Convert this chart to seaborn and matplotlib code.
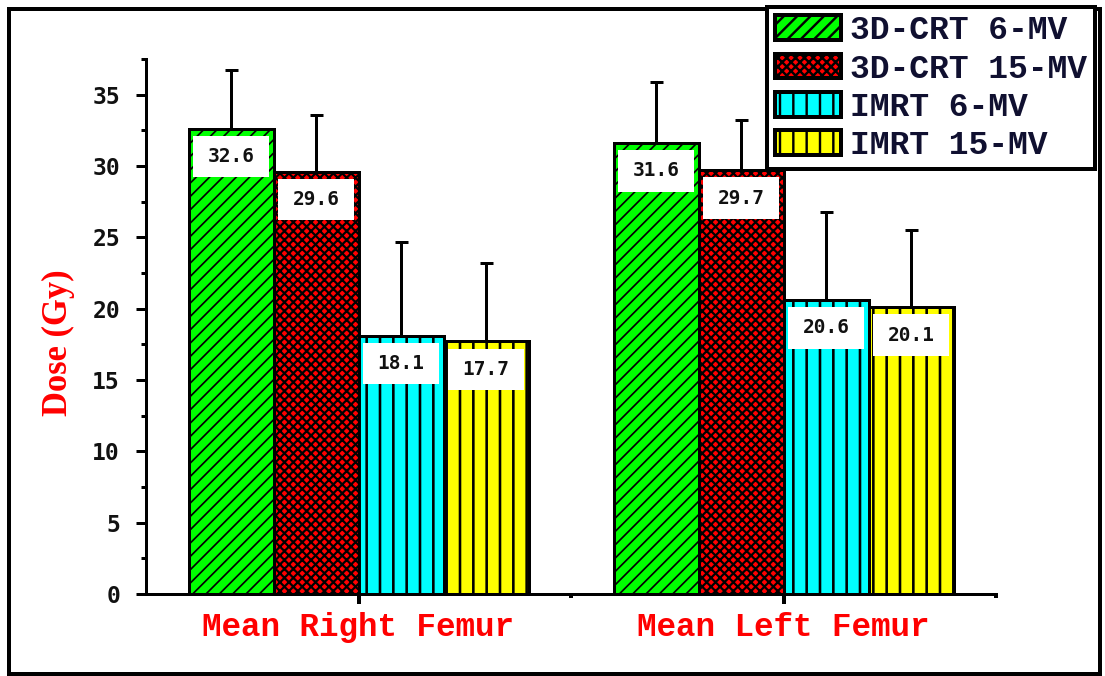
import numpy as np
import pandas as pd
import matplotlib
matplotlib.use("Agg")
import matplotlib.pyplot as plt
from matplotlib.patches import Patch, Rectangle
from matplotlib.ticker import MultipleLocator, FixedLocator
import seaborn as sns

# ---- data -------------------------------------------------------------
regions = ["Mean Right Femur", "Mean Left Femur"]
techniques = ["3D-CRT 6-MV", "3D-CRT 15-MV", "IMRT 6-MV", "IMRT 15-MV"]

crt6_mean = [32.6, 31.6]
crt15_mean = [29.6, 29.7]
imrt6_mean = [18.1, 20.6]
imrt15_mean = [17.7, 20.1]

crt6_sd = [4.1, 4.3]
crt15_sd = [4.0, 3.5]
imrt6_sd = [6.6, 6.2]
imrt15_sd = [5.5, 5.4]

y_ticks = [0, 5, 10, 15, 20, 25, 30, 35]

means = [crt6_mean, crt15_mean, imrt6_mean, imrt15_mean]
sds = [crt6_sd, crt15_sd, imrt6_sd, imrt15_sd]

colors = ["#00FF00", "#FF0000", "#00FFFF", "#FFFF00"]
hatches = ["//", "xxx", "|", "|"]

DPI = 80
W, H = 1105, 676


def px(v):
    """pixels -> points at the figure dpi"""
    return v * 72.0 / DPI


hatch_widths = [px(1.7), px(2.2), px(2.6), px(2.6)]

df = pd.DataFrame(
    [(r, t, means[i][j]) for i, t in enumerate(techniques) for j, r in enumerate(regions)],
    columns=["region", "technique", "dose"],
)

sns.set_theme(style="ticks")
plt.rcParams["font.family"] = ["Liberation Serif", "DejaVu Sans"]
plt.rcParams["hatch.linewidth"] = px(2.4)
plt.rcParams["hatch.color"] = "black"

fig = plt.figure(figsize=(W / DPI, H / DPI), dpi=DPI, facecolor="white")
ax = fig.add_axes([146 / W, 82 / H, 850 / W, 535 / H])

sns.barplot(
    data=df, x="region", y="dose", hue="technique",
    order=regions, hue_order=techniques, palette=colors,
    saturation=1, errorbar=None, edgecolor="black", linewidth=px(3),
    width=0.8, gap=0, legend=False, ax=ax, zorder=2,
)

mono = "Liberation Mono"
num_font = "DejaVu Sans Mono"


def style_hatch(patch, i):
    patch.set_hatch(hatches[i])
    if hasattr(patch, "set_hatch_linewidth"):
        patch.set_hatch_linewidth(hatch_widths[i])


bar_groups = list(ax.containers)
for i, cont in enumerate(bar_groups):
    for j, bar in enumerate(cont.patches):
        style_hatch(bar, i)
        bar.set_edgecolor("black")
        xc = bar.get_x() + bar.get_width() / 2
        top = bar.get_height()
        bw = bar.get_width()
        # white value box inside the top of each bar
        ax.add_patch(Rectangle((xc - 0.45 * bw, top - 3.4), 0.9 * bw, 2.9,
                               facecolor="white", edgecolor="none", zorder=3))
        ax.text(xc, top - 1.95, f"{means[i][j]:.1f}", ha="center", va="center",
                fontsize=px(19.5), fontweight="bold", family=num_font,
                color="#111111", zorder=4)
        ax.errorbar(xc, top, yerr=[[0], [sds[i][j]]], fmt="none", ecolor="black",
                    elinewidth=px(3), capsize=px(6.5), capthick=px(3), zorder=1)

# ---- axes styling -------------------------------------------------------
ax.set_xlim(-0.5, 1.5)
ax.set_ylim(0, 37.5)
ax.yaxis.set_major_locator(FixedLocator(y_ticks))
ax.yaxis.set_minor_locator(MultipleLocator(2.5))
ax.xaxis.set_minor_locator(FixedLocator([0.5, 1.5]))

for s in ["top", "right"]:
    ax.spines[s].set_visible(False)
for s in ["left", "bottom"]:
    ax.spines[s].set_linewidth(px(3))
    ax.spines[s].set_color("black")

ax.tick_params(axis="y", which="major", length=px(10), width=px(3), pad=px(16),
               labelsize=px(23), color="black")
ax.tick_params(axis="y", which="minor", length=px(5), width=px(3), color="black")
ax.tick_params(axis="x", which="major", length=px(10), width=px(4), pad=px(8),
               color="black")
ax.tick_params(axis="x", which="minor", length=px(4), width=px(4), color="black")

for lab in ax.get_yticklabels():
    lab.set_fontfamily(num_font)
    lab.set_fontweight("bold")
    lab.set_color("#111111")

ax.set_xticks(range(len(regions)))
ax.set_xticklabels(regions, fontfamily=mono, fontweight="bold",
                   fontsize=px(32.5), color="#FF0000")
ax.set_xlabel("")

ax.set_ylabel("Dose (Gy)", fontfamily="Liberation Serif", fontweight="bold",
              fontsize=px(34.5), color="#FF0000")
ax.yaxis.set_label_coords(-0.084, 0.47)

# ---- legend -------------------------------------------------------------
handles = []
for i, c in enumerate(colors):
    h = Patch(facecolor=c, edgecolor="black", linewidth=px(4))
    style_hatch(h, i)
    handles.append(h)
leg = fig.legend(
    handles, techniques, loc="upper left",
    bbox_to_anchor=(767 / W, 1 - 7 / H), bbox_transform=fig.transFigure,
    prop={"family": mono, "weight": "bold", "size": px(33)},
    handlelength=2.0, handleheight=0.78, handletextpad=0.25,
    labelspacing=0.22, borderpad=0.25, borderaxespad=0,
    frameon=True, fancybox=False, framealpha=1, edgecolor="black",
)
leg.get_frame().set_linewidth(px(4))
for t in leg.get_texts():
    t.set_color("#101030")

# ---- outer frame --------------------------------------------------------
fig.add_artist(Rectangle((9 / W, 2 / H), (1100 - 9) / W, (667 - 2) / H,
                         transform=fig.transFigure, fill=False,
                         edgecolor="black", linewidth=px(4), zorder=0))

fig.savefig("out.png", dpi=DPI, facecolor="white")
